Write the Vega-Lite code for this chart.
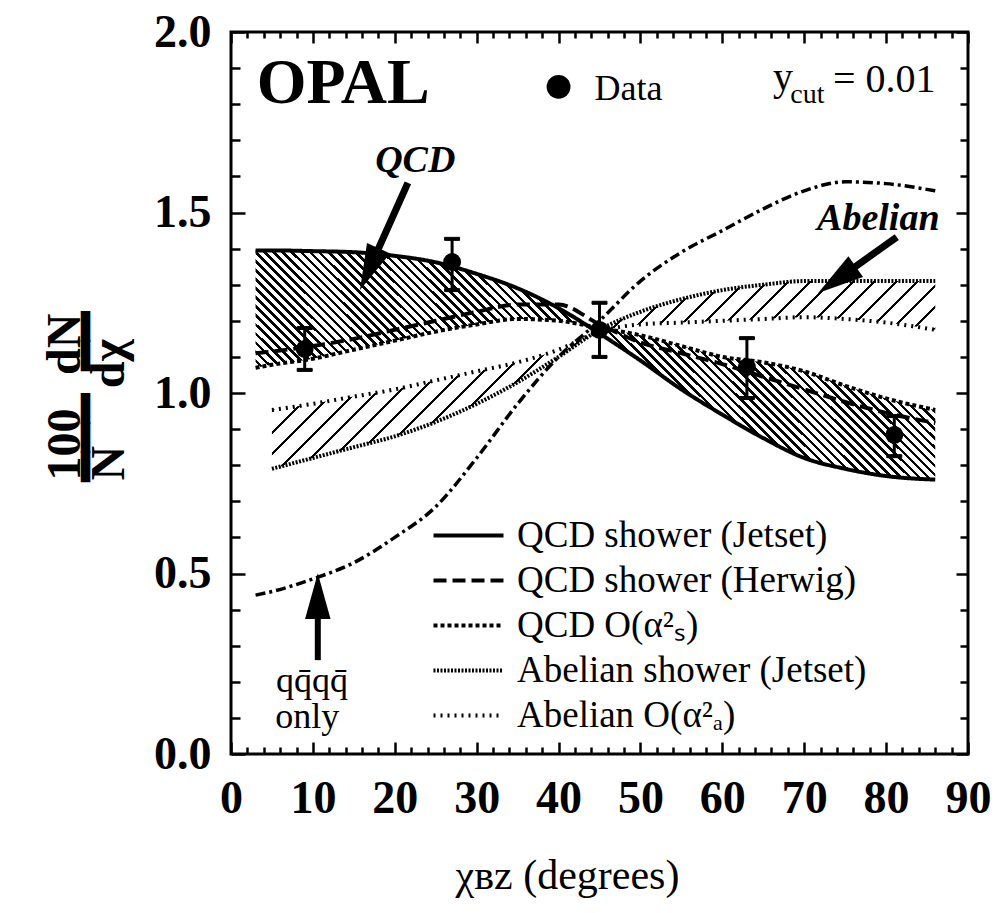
{
 "$schema": "https://vega.github.io/schema/vega-lite/v6.json",
 "width": 737, "height": 722,
 "autosize": {"type": "none"},
 "padding": {"left": 231, "top": 32, "right": 33, "bottom": 159},
 "background": "white",
 "config": {"view": {"stroke": "black", "strokeWidth": 3}, "font": "Liberation Serif"},
 "datasets": {
  "curves": [
   {"x": 3, "qcd_jetset": 1.395, "qcd_herwig": 1.11, "qcd_as2": 1.07, "ab_jetset": null, "ab_aa2": null, "qqqq": 0.44},
   {"x": 5, "qcd_jetset": 1.395, "qcd_herwig": 1.115, "qcd_as2": 1.078, "ab_jetset": 0.79, "ab_aa2": 0.953, "qqqq": 0.45},
   {"x": 10, "qcd_jetset": 1.393, "qcd_herwig": 1.13, "qcd_as2": 1.095, "ab_jetset": 0.82, "ab_aa2": 0.97, "qqqq": 0.485},
   {"x": 15, "qcd_jetset": 1.39, "qcd_herwig": 1.15, "qcd_as2": 1.12, "ab_jetset": 0.85, "ab_aa2": 0.99, "qqqq": 0.53},
   {"x": 20, "qcd_jetset": 1.38, "qcd_herwig": 1.175, "qcd_as2": 1.145, "ab_jetset": 0.88, "ab_aa2": 1.01, "qqqq": 0.6},
   {"x": 25, "qcd_jetset": 1.362, "qcd_herwig": 1.2, "qcd_as2": 1.17, "ab_jetset": 0.92, "ab_aa2": 1.035, "qqqq": 0.685},
   {"x": 30, "qcd_jetset": 1.33, "qcd_herwig": 1.225, "qcd_as2": 1.19, "ab_jetset": 0.97, "ab_aa2": 1.06, "qqqq": 0.82},
   {"x": 35, "qcd_jetset": 1.29, "qcd_herwig": 1.245, "qcd_as2": 1.205, "ab_jetset": 1.03, "ab_aa2": 1.085, "qqqq": 0.97},
   {"x": 40, "qcd_jetset": 1.235, "qcd_herwig": 1.245, "qcd_as2": 1.2, "ab_jetset": 1.1, "ab_aa2": 1.12, "qqqq": 1.1},
   {"x": 45, "qcd_jetset": 1.165, "qcd_herwig": 1.19, "qcd_as2": 1.18, "ab_jetset": 1.175, "ab_aa2": 1.17, "qqqq": 1.2},
   {"x": 50, "qcd_jetset": 1.09, "qcd_herwig": 1.14, "qcd_as2": 1.16, "ab_jetset": 1.225, "ab_aa2": 1.19, "qqqq": 1.31},
   {"x": 55, "qcd_jetset": 1.01, "qcd_herwig": 1.11, "qcd_as2": 1.13, "ab_jetset": 1.26, "ab_aa2": 1.195, "qqqq": 1.39},
   {"x": 60, "qcd_jetset": 0.94, "qcd_herwig": 1.08, "qcd_as2": 1.1, "ab_jetset": 1.285, "ab_aa2": 1.2, "qqqq": 1.45},
   {"x": 65, "qcd_jetset": 0.875, "qcd_herwig": 1.045, "qcd_as2": 1.085, "ab_jetset": 1.3, "ab_aa2": 1.205, "qqqq": 1.51},
   {"x": 70, "qcd_jetset": 0.82, "qcd_herwig": 1.01, "qcd_as2": 1.06, "ab_jetset": 1.31, "ab_aa2": 1.21, "qqqq": 1.56},
   {"x": 75, "qcd_jetset": 0.79, "qcd_herwig": 0.975, "qcd_as2": 1.02, "ab_jetset": 1.31, "ab_aa2": 1.205, "qqqq": 1.585},
   {"x": 80, "qcd_jetset": 0.77, "qcd_herwig": 0.945, "qcd_as2": 0.985, "ab_jetset": 1.31, "ab_aa2": 1.195, "qqqq": 1.58},
   {"x": 86, "qcd_jetset": 0.76, "qcd_herwig": 0.917, "qcd_as2": 0.953, "ab_jetset": 1.31, "ab_aa2": 1.175, "qqqq": 1.56}
  ],
  "points": [
   {"x": 9, "y": 1.122, "lo": 1.064, "hi": 1.18},
   {"x": 27, "y": 1.363, "lo": 1.285, "hi": 1.427},
   {"x": 45, "y": 1.175, "lo": 1.1, "hi": 1.25},
   {"x": 63, "y": 1.072, "lo": 0.986, "hi": 1.152},
   {"x": 81, "y": 0.884, "lo": 0.825, "hi": 0.936}
  ]
 },
 "resolve": {"axis": {"x": "independent", "y": "independent"}},
 "layer": [
  {
   "data": {"name": "curves"},
   "mark": {"type": "area", "interpolate": "monotone", "fill": {"gradient": "linear", "x1": 0, "y1": 1, "x2": 1.2, "y2": 0.592, "stops": [
{"offset":0,"color":"#000"},{"offset":0.004,"color":"#000"},{"offset":0.004,"color":"#fff"},{"offset":0.01,"color":"#fff"},
{"offset":0.01,"color":"#000"},{"offset":0.014,"color":"#000"},{"offset":0.014,"color":"#fff"},{"offset":0.02,"color":"#fff"},
{"offset":0.02,"color":"#000"},{"offset":0.024,"color":"#000"},{"offset":0.024,"color":"#fff"},{"offset":0.03,"color":"#fff"},
{"offset":0.03,"color":"#000"},{"offset":0.034,"color":"#000"},{"offset":0.034,"color":"#fff"},{"offset":0.04,"color":"#fff"},
{"offset":0.04,"color":"#000"},{"offset":0.044,"color":"#000"},{"offset":0.044,"color":"#fff"},{"offset":0.05,"color":"#fff"},
{"offset":0.05,"color":"#000"},{"offset":0.054,"color":"#000"},{"offset":0.054,"color":"#fff"},{"offset":0.06,"color":"#fff"},
{"offset":0.06,"color":"#000"},{"offset":0.064,"color":"#000"},{"offset":0.064,"color":"#fff"},{"offset":0.07,"color":"#fff"},
{"offset":0.07,"color":"#000"},{"offset":0.074,"color":"#000"},{"offset":0.074,"color":"#fff"},{"offset":0.08,"color":"#fff"},
{"offset":0.08,"color":"#000"},{"offset":0.084,"color":"#000"},{"offset":0.084,"color":"#fff"},{"offset":0.09,"color":"#fff"},
{"offset":0.09,"color":"#000"},{"offset":0.094,"color":"#000"},{"offset":0.094,"color":"#fff"},{"offset":0.1,"color":"#fff"},
{"offset":0.1,"color":"#000"},{"offset":0.104,"color":"#000"},{"offset":0.104,"color":"#fff"},{"offset":0.11,"color":"#fff"},
{"offset":0.11,"color":"#000"},{"offset":0.114,"color":"#000"},{"offset":0.114,"color":"#fff"},{"offset":0.12,"color":"#fff"},
{"offset":0.12,"color":"#000"},{"offset":0.124,"color":"#000"},{"offset":0.124,"color":"#fff"},{"offset":0.13,"color":"#fff"},
{"offset":0.13,"color":"#000"},{"offset":0.134,"color":"#000"},{"offset":0.134,"color":"#fff"},{"offset":0.14,"color":"#fff"},
{"offset":0.14,"color":"#000"},{"offset":0.144,"color":"#000"},{"offset":0.144,"color":"#fff"},{"offset":0.15,"color":"#fff"},
{"offset":0.15,"color":"#000"},{"offset":0.154,"color":"#000"},{"offset":0.154,"color":"#fff"},{"offset":0.16,"color":"#fff"},
{"offset":0.16,"color":"#000"},{"offset":0.164,"color":"#000"},{"offset":0.164,"color":"#fff"},{"offset":0.17,"color":"#fff"},
{"offset":0.17,"color":"#000"},{"offset":0.174,"color":"#000"},{"offset":0.174,"color":"#fff"},{"offset":0.18,"color":"#fff"},
{"offset":0.18,"color":"#000"},{"offset":0.184,"color":"#000"},{"offset":0.184,"color":"#fff"},{"offset":0.19,"color":"#fff"},
{"offset":0.19,"color":"#000"},{"offset":0.194,"color":"#000"},{"offset":0.194,"color":"#fff"},{"offset":0.2,"color":"#fff"},
{"offset":0.2,"color":"#000"},{"offset":0.204,"color":"#000"},{"offset":0.204,"color":"#fff"},{"offset":0.21,"color":"#fff"},
{"offset":0.21,"color":"#000"},{"offset":0.214,"color":"#000"},{"offset":0.214,"color":"#fff"},{"offset":0.22,"color":"#fff"},
{"offset":0.22,"color":"#000"},{"offset":0.224,"color":"#000"},{"offset":0.224,"color":"#fff"},{"offset":0.23,"color":"#fff"},
{"offset":0.23,"color":"#000"},{"offset":0.234,"color":"#000"},{"offset":0.234,"color":"#fff"},{"offset":0.24,"color":"#fff"},
{"offset":0.24,"color":"#000"},{"offset":0.244,"color":"#000"},{"offset":0.244,"color":"#fff"},{"offset":0.25,"color":"#fff"},
{"offset":0.25,"color":"#000"},{"offset":0.254,"color":"#000"},{"offset":0.254,"color":"#fff"},{"offset":0.26,"color":"#fff"},
{"offset":0.26,"color":"#000"},{"offset":0.264,"color":"#000"},{"offset":0.264,"color":"#fff"},{"offset":0.27,"color":"#fff"},
{"offset":0.27,"color":"#000"},{"offset":0.274,"color":"#000"},{"offset":0.274,"color":"#fff"},{"offset":0.28,"color":"#fff"},
{"offset":0.28,"color":"#000"},{"offset":0.284,"color":"#000"},{"offset":0.284,"color":"#fff"},{"offset":0.29,"color":"#fff"},
{"offset":0.29,"color":"#000"},{"offset":0.294,"color":"#000"},{"offset":0.294,"color":"#fff"},{"offset":0.3,"color":"#fff"},
{"offset":0.3,"color":"#000"},{"offset":0.304,"color":"#000"},{"offset":0.304,"color":"#fff"},{"offset":0.31,"color":"#fff"},
{"offset":0.31,"color":"#000"},{"offset":0.314,"color":"#000"},{"offset":0.314,"color":"#fff"},{"offset":0.32,"color":"#fff"},
{"offset":0.32,"color":"#000"},{"offset":0.324,"color":"#000"},{"offset":0.324,"color":"#fff"},{"offset":0.33,"color":"#fff"},
{"offset":0.33,"color":"#000"},{"offset":0.334,"color":"#000"},{"offset":0.334,"color":"#fff"},{"offset":0.34,"color":"#fff"},
{"offset":0.34,"color":"#000"},{"offset":0.344,"color":"#000"},{"offset":0.344,"color":"#fff"},{"offset":0.35,"color":"#fff"},
{"offset":0.35,"color":"#000"},{"offset":0.354,"color":"#000"},{"offset":0.354,"color":"#fff"},{"offset":0.36,"color":"#fff"},
{"offset":0.36,"color":"#000"},{"offset":0.364,"color":"#000"},{"offset":0.364,"color":"#fff"},{"offset":0.37,"color":"#fff"},
{"offset":0.37,"color":"#000"},{"offset":0.374,"color":"#000"},{"offset":0.374,"color":"#fff"},{"offset":0.38,"color":"#fff"},
{"offset":0.38,"color":"#000"},{"offset":0.384,"color":"#000"},{"offset":0.384,"color":"#fff"},{"offset":0.39,"color":"#fff"},
{"offset":0.39,"color":"#000"},{"offset":0.394,"color":"#000"},{"offset":0.394,"color":"#fff"},{"offset":0.4,"color":"#fff"},
{"offset":0.4,"color":"#000"},{"offset":0.404,"color":"#000"},{"offset":0.404,"color":"#fff"},{"offset":0.41,"color":"#fff"},
{"offset":0.41,"color":"#000"},{"offset":0.414,"color":"#000"},{"offset":0.414,"color":"#fff"},{"offset":0.42,"color":"#fff"},
{"offset":0.42,"color":"#000"},{"offset":0.424,"color":"#000"},{"offset":0.424,"color":"#fff"},{"offset":0.43,"color":"#fff"},
{"offset":0.43,"color":"#000"},{"offset":0.434,"color":"#000"},{"offset":0.434,"color":"#fff"},{"offset":0.44,"color":"#fff"},
{"offset":0.44,"color":"#000"},{"offset":0.444,"color":"#000"},{"offset":0.444,"color":"#fff"},{"offset":0.45,"color":"#fff"},
{"offset":0.45,"color":"#000"},{"offset":0.454,"color":"#000"},{"offset":0.454,"color":"#fff"},{"offset":0.46,"color":"#fff"},
{"offset":0.46,"color":"#000"},{"offset":0.464,"color":"#000"},{"offset":0.464,"color":"#fff"},{"offset":0.47,"color":"#fff"},
{"offset":0.47,"color":"#000"},{"offset":0.474,"color":"#000"},{"offset":0.474,"color":"#fff"},{"offset":0.48,"color":"#fff"},
{"offset":0.48,"color":"#000"},{"offset":0.484,"color":"#000"},{"offset":0.484,"color":"#fff"},{"offset":0.49,"color":"#fff"},
{"offset":0.49,"color":"#000"},{"offset":0.494,"color":"#000"},{"offset":0.494,"color":"#fff"},{"offset":0.5,"color":"#fff"},
{"offset":0.5,"color":"#000"},{"offset":0.504,"color":"#000"},{"offset":0.504,"color":"#fff"},{"offset":0.51,"color":"#fff"},
{"offset":0.51,"color":"#000"},{"offset":0.514,"color":"#000"},{"offset":0.514,"color":"#fff"},{"offset":0.52,"color":"#fff"},
{"offset":0.52,"color":"#000"},{"offset":0.524,"color":"#000"},{"offset":0.524,"color":"#fff"},{"offset":0.53,"color":"#fff"},
{"offset":0.53,"color":"#000"},{"offset":0.534,"color":"#000"},{"offset":0.534,"color":"#fff"},{"offset":0.54,"color":"#fff"},
{"offset":0.54,"color":"#000"},{"offset":0.544,"color":"#000"},{"offset":0.544,"color":"#fff"},{"offset":0.55,"color":"#fff"},
{"offset":0.55,"color":"#000"},{"offset":0.554,"color":"#000"},{"offset":0.554,"color":"#fff"},{"offset":0.56,"color":"#fff"},
{"offset":0.56,"color":"#000"},{"offset":0.564,"color":"#000"},{"offset":0.564,"color":"#fff"},{"offset":0.57,"color":"#fff"},
{"offset":0.57,"color":"#000"},{"offset":0.574,"color":"#000"},{"offset":0.574,"color":"#fff"},{"offset":0.58,"color":"#fff"},
{"offset":0.58,"color":"#000"},{"offset":0.584,"color":"#000"},{"offset":0.584,"color":"#fff"},{"offset":0.59,"color":"#fff"},
{"offset":0.59,"color":"#000"},{"offset":0.594,"color":"#000"},{"offset":0.594,"color":"#fff"},{"offset":0.6,"color":"#fff"},
{"offset":0.6,"color":"#000"},{"offset":0.604,"color":"#000"},{"offset":0.604,"color":"#fff"},{"offset":0.61,"color":"#fff"},
{"offset":0.61,"color":"#000"},{"offset":0.614,"color":"#000"},{"offset":0.614,"color":"#fff"},{"offset":0.62,"color":"#fff"},
{"offset":0.62,"color":"#000"},{"offset":0.624,"color":"#000"},{"offset":0.624,"color":"#fff"},{"offset":0.63,"color":"#fff"},
{"offset":0.63,"color":"#000"},{"offset":0.634,"color":"#000"},{"offset":0.634,"color":"#fff"},{"offset":0.64,"color":"#fff"},
{"offset":0.64,"color":"#000"},{"offset":0.644,"color":"#000"},{"offset":0.644,"color":"#fff"},{"offset":0.65,"color":"#fff"},
{"offset":0.65,"color":"#000"},{"offset":0.654,"color":"#000"},{"offset":0.654,"color":"#fff"},{"offset":0.66,"color":"#fff"},
{"offset":0.66,"color":"#000"},{"offset":0.664,"color":"#000"},{"offset":0.664,"color":"#fff"},{"offset":0.67,"color":"#fff"},
{"offset":0.67,"color":"#000"},{"offset":0.674,"color":"#000"},{"offset":0.674,"color":"#fff"},{"offset":0.68,"color":"#fff"},
{"offset":0.68,"color":"#000"},{"offset":0.684,"color":"#000"},{"offset":0.684,"color":"#fff"},{"offset":0.69,"color":"#fff"},
{"offset":0.69,"color":"#000"},{"offset":0.694,"color":"#000"},{"offset":0.694,"color":"#fff"},{"offset":0.7,"color":"#fff"},
{"offset":0.7,"color":"#000"},{"offset":0.704,"color":"#000"},{"offset":0.704,"color":"#fff"},{"offset":0.71,"color":"#fff"},
{"offset":0.71,"color":"#000"},{"offset":0.714,"color":"#000"},{"offset":0.714,"color":"#fff"},{"offset":0.72,"color":"#fff"},
{"offset":0.72,"color":"#000"},{"offset":0.724,"color":"#000"},{"offset":0.724,"color":"#fff"},{"offset":0.73,"color":"#fff"},
{"offset":0.73,"color":"#000"},{"offset":0.734,"color":"#000"},{"offset":0.734,"color":"#fff"},{"offset":0.74,"color":"#fff"},
{"offset":0.74,"color":"#000"},{"offset":0.744,"color":"#000"},{"offset":0.744,"color":"#fff"},{"offset":0.75,"color":"#fff"},
{"offset":0.75,"color":"#000"},{"offset":0.754,"color":"#000"},{"offset":0.754,"color":"#fff"},{"offset":0.76,"color":"#fff"},
{"offset":0.76,"color":"#000"},{"offset":0.764,"color":"#000"},{"offset":0.764,"color":"#fff"},{"offset":0.77,"color":"#fff"},
{"offset":0.77,"color":"#000"},{"offset":0.774,"color":"#000"},{"offset":0.774,"color":"#fff"},{"offset":0.78,"color":"#fff"},
{"offset":0.78,"color":"#000"},{"offset":0.784,"color":"#000"},{"offset":0.784,"color":"#fff"},{"offset":0.79,"color":"#fff"},
{"offset":0.79,"color":"#000"},{"offset":0.794,"color":"#000"},{"offset":0.794,"color":"#fff"},{"offset":0.8,"color":"#fff"},
{"offset":0.8,"color":"#000"},{"offset":0.804,"color":"#000"},{"offset":0.804,"color":"#fff"},{"offset":0.81,"color":"#fff"},
{"offset":0.81,"color":"#000"},{"offset":0.814,"color":"#000"},{"offset":0.814,"color":"#fff"},{"offset":0.82,"color":"#fff"},
{"offset":0.82,"color":"#000"},{"offset":0.824,"color":"#000"},{"offset":0.824,"color":"#fff"},{"offset":0.83,"color":"#fff"},
{"offset":0.83,"color":"#000"},{"offset":0.834,"color":"#000"},{"offset":0.834,"color":"#fff"},{"offset":0.84,"color":"#fff"},
{"offset":0.84,"color":"#000"},{"offset":0.844,"color":"#000"},{"offset":0.844,"color":"#fff"},{"offset":0.85,"color":"#fff"},
{"offset":0.85,"color":"#000"},{"offset":0.854,"color":"#000"},{"offset":0.854,"color":"#fff"},{"offset":0.86,"color":"#fff"},
{"offset":0.86,"color":"#000"},{"offset":0.864,"color":"#000"},{"offset":0.864,"color":"#fff"},{"offset":0.87,"color":"#fff"},
{"offset":0.87,"color":"#000"},{"offset":0.874,"color":"#000"},{"offset":0.874,"color":"#fff"},{"offset":0.88,"color":"#fff"},
{"offset":0.88,"color":"#000"},{"offset":0.884,"color":"#000"},{"offset":0.884,"color":"#fff"},{"offset":0.89,"color":"#fff"},
{"offset":0.89,"color":"#000"},{"offset":0.894,"color":"#000"},{"offset":0.894,"color":"#fff"},{"offset":0.9,"color":"#fff"},
{"offset":0.9,"color":"#000"},{"offset":0.904,"color":"#000"},{"offset":0.904,"color":"#fff"},{"offset":0.91,"color":"#fff"},
{"offset":0.91,"color":"#000"},{"offset":0.914,"color":"#000"},{"offset":0.914,"color":"#fff"},{"offset":0.92,"color":"#fff"},
{"offset":0.92,"color":"#000"},{"offset":0.924,"color":"#000"},{"offset":0.924,"color":"#fff"},{"offset":0.93,"color":"#fff"},
{"offset":0.93,"color":"#000"},{"offset":0.934,"color":"#000"},{"offset":0.934,"color":"#fff"},{"offset":0.94,"color":"#fff"},
{"offset":0.94,"color":"#000"},{"offset":0.944,"color":"#000"},{"offset":0.944,"color":"#fff"},{"offset":0.95,"color":"#fff"},
{"offset":0.95,"color":"#000"},{"offset":0.954,"color":"#000"},{"offset":0.954,"color":"#fff"},{"offset":0.96,"color":"#fff"},
{"offset":0.96,"color":"#000"},{"offset":0.964,"color":"#000"},{"offset":0.964,"color":"#fff"},{"offset":0.97,"color":"#fff"},
{"offset":0.97,"color":"#000"},{"offset":0.974,"color":"#000"},{"offset":0.974,"color":"#fff"},{"offset":0.98,"color":"#fff"},
{"offset":0.98,"color":"#000"},{"offset":0.984,"color":"#000"},{"offset":0.984,"color":"#fff"},{"offset":0.99,"color":"#fff"},
{"offset":0.99,"color":"#000"},{"offset":0.994,"color":"#000"},{"offset":0.994,"color":"#fff"},{"offset":1,"color":"#fff"}
   ]}},
   "encoding": {
    "x": {"field": "x", "type": "quantitative", "scale": {"domain": [0, 90], "nice": false, "zero": false},
     "axis": {"orient": "bottom", "values": [0,2,4,6,8,10,12,14,16,18,20,22,24,26,28,30,32,34,36,38,40,42,44,46,48,50,52,54,56,58,60,62,64,66,68,70,72,74,76,78,80,82,84,86,88,90],
      "domain": false, "grid": false, "tickColor": "black", "tickWidth": 2.5,
      "tickSize": {"condition": {"test": "datum.value % 10 === 0", "value": -12}, "value": -7},
      "labelExpr": "datum.value % 10 === 0 ? datum.label : ''",
      "labelFont": "Liberation Serif", "labelFontWeight": "bold", "labelFontSize": 46, "labelColor": "black",
      "labelPadding": 34, "labelOverlap": false, "labelFlush": false,
      "title": "χʙᴢ (degrees)", "titleFont": "Liberation Serif", "titleFontSize": 42, "titleFontWeight": "normal", "titleColor": "black",
      "titleX": 336, "titleY": 134, "titleAlign": "center", "titleBaseline": "alphabetic"}},
    "y": {"field": "qcd_jetset", "type": "quantitative", "scale": {"domain": [0, 2], "nice": false, "zero": false},
     "axis": {"orient": "left", "values": [0,0.1,0.2,0.3,0.4,0.5,0.6,0.7,0.8,0.9,1,1.1,1.2,1.3,1.4,1.5,1.6,1.7,1.8,1.9,2],
      "domain": false, "grid": false, "tickColor": "black", "tickWidth": 2.5,
      "tickSize": {"condition": {"test": "abs(datum.value*2-round(datum.value*2))<0.01", "value": -14}, "value": -9},
      "labelExpr": "abs(datum.value*2-round(datum.value*2))<0.01 ? format(datum.value,'.1f') : ''",
      "labelFont": "Liberation Serif", "labelFontWeight": "bold", "labelFontSize": 46, "labelColor": "black",
      "labelPadding": 34, "labelOverlap": false, "labelFlush": false,
      "title": ["100\u2002\u2009dN", "━━━\u2002━━", "\u2007N\u2003\u2009dχ"],
      "titleFont": "Liberation Serif", "titleFontSize": 48, "titleFontWeight": "bold", "titleColor": "black",
      "titleAngle": 270, "titleAlign": "left", "titleBaseline": "middle", "titleX": -166, "titleY": 448, "titleLineHeight": 22}},
    "y2": {"field": "qcd_as2"}
   }
  },
  {
   "data": {"name": "curves"},
   "mark": {"type": "area", "interpolate": "monotone", "fill": {"gradient": "linear", "x1": 0, "y1": 0, "x2": 1.2, "y2": 0.34, "stops": [
{"offset":0,"color":"#000"},{"offset":0.0035,"color":"#000"},{"offset":0.0035,"color":"#fff"},{"offset":0.025,"color":"#fff"},
{"offset":0.025,"color":"#000"},{"offset":0.0285,"color":"#000"},{"offset":0.0285,"color":"#fff"},{"offset":0.05,"color":"#fff"},
{"offset":0.05,"color":"#000"},{"offset":0.0535,"color":"#000"},{"offset":0.0535,"color":"#fff"},{"offset":0.075,"color":"#fff"},
{"offset":0.075,"color":"#000"},{"offset":0.0785,"color":"#000"},{"offset":0.0785,"color":"#fff"},{"offset":0.1,"color":"#fff"},
{"offset":0.1,"color":"#000"},{"offset":0.1035,"color":"#000"},{"offset":0.1035,"color":"#fff"},{"offset":0.125,"color":"#fff"},
{"offset":0.125,"color":"#000"},{"offset":0.1285,"color":"#000"},{"offset":0.1285,"color":"#fff"},{"offset":0.15,"color":"#fff"},
{"offset":0.15,"color":"#000"},{"offset":0.1535,"color":"#000"},{"offset":0.1535,"color":"#fff"},{"offset":0.175,"color":"#fff"},
{"offset":0.175,"color":"#000"},{"offset":0.1785,"color":"#000"},{"offset":0.1785,"color":"#fff"},{"offset":0.2,"color":"#fff"},
{"offset":0.2,"color":"#000"},{"offset":0.2035,"color":"#000"},{"offset":0.2035,"color":"#fff"},{"offset":0.225,"color":"#fff"},
{"offset":0.225,"color":"#000"},{"offset":0.2285,"color":"#000"},{"offset":0.2285,"color":"#fff"},{"offset":0.25,"color":"#fff"},
{"offset":0.25,"color":"#000"},{"offset":0.2535,"color":"#000"},{"offset":0.2535,"color":"#fff"},{"offset":0.275,"color":"#fff"},
{"offset":0.275,"color":"#000"},{"offset":0.2785,"color":"#000"},{"offset":0.2785,"color":"#fff"},{"offset":0.3,"color":"#fff"},
{"offset":0.3,"color":"#000"},{"offset":0.3035,"color":"#000"},{"offset":0.3035,"color":"#fff"},{"offset":0.325,"color":"#fff"},
{"offset":0.325,"color":"#000"},{"offset":0.3285,"color":"#000"},{"offset":0.3285,"color":"#fff"},{"offset":0.35,"color":"#fff"},
{"offset":0.35,"color":"#000"},{"offset":0.3535,"color":"#000"},{"offset":0.3535,"color":"#fff"},{"offset":0.375,"color":"#fff"},
{"offset":0.375,"color":"#000"},{"offset":0.3785,"color":"#000"},{"offset":0.3785,"color":"#fff"},{"offset":0.4,"color":"#fff"},
{"offset":0.4,"color":"#000"},{"offset":0.4035,"color":"#000"},{"offset":0.4035,"color":"#fff"},{"offset":0.425,"color":"#fff"},
{"offset":0.425,"color":"#000"},{"offset":0.4285,"color":"#000"},{"offset":0.4285,"color":"#fff"},{"offset":0.45,"color":"#fff"},
{"offset":0.45,"color":"#000"},{"offset":0.4535,"color":"#000"},{"offset":0.4535,"color":"#fff"},{"offset":0.475,"color":"#fff"},
{"offset":0.475,"color":"#000"},{"offset":0.4785,"color":"#000"},{"offset":0.4785,"color":"#fff"},{"offset":0.5,"color":"#fff"},
{"offset":0.5,"color":"#000"},{"offset":0.5035,"color":"#000"},{"offset":0.5035,"color":"#fff"},{"offset":0.525,"color":"#fff"},
{"offset":0.525,"color":"#000"},{"offset":0.5285,"color":"#000"},{"offset":0.5285,"color":"#fff"},{"offset":0.55,"color":"#fff"},
{"offset":0.55,"color":"#000"},{"offset":0.5535,"color":"#000"},{"offset":0.5535,"color":"#fff"},{"offset":0.575,"color":"#fff"},
{"offset":0.575,"color":"#000"},{"offset":0.5785,"color":"#000"},{"offset":0.5785,"color":"#fff"},{"offset":0.6,"color":"#fff"},
{"offset":0.6,"color":"#000"},{"offset":0.6035,"color":"#000"},{"offset":0.6035,"color":"#fff"},{"offset":0.625,"color":"#fff"},
{"offset":0.625,"color":"#000"},{"offset":0.6285,"color":"#000"},{"offset":0.6285,"color":"#fff"},{"offset":0.65,"color":"#fff"},
{"offset":0.65,"color":"#000"},{"offset":0.6535,"color":"#000"},{"offset":0.6535,"color":"#fff"},{"offset":0.675,"color":"#fff"},
{"offset":0.675,"color":"#000"},{"offset":0.6785,"color":"#000"},{"offset":0.6785,"color":"#fff"},{"offset":0.7,"color":"#fff"},
{"offset":0.7,"color":"#000"},{"offset":0.7035,"color":"#000"},{"offset":0.7035,"color":"#fff"},{"offset":0.725,"color":"#fff"},
{"offset":0.725,"color":"#000"},{"offset":0.7285,"color":"#000"},{"offset":0.7285,"color":"#fff"},{"offset":0.75,"color":"#fff"},
{"offset":0.75,"color":"#000"},{"offset":0.7535,"color":"#000"},{"offset":0.7535,"color":"#fff"},{"offset":0.775,"color":"#fff"},
{"offset":0.775,"color":"#000"},{"offset":0.7785,"color":"#000"},{"offset":0.7785,"color":"#fff"},{"offset":0.8,"color":"#fff"},
{"offset":0.8,"color":"#000"},{"offset":0.8035,"color":"#000"},{"offset":0.8035,"color":"#fff"},{"offset":0.825,"color":"#fff"},
{"offset":0.825,"color":"#000"},{"offset":0.8285,"color":"#000"},{"offset":0.8285,"color":"#fff"},{"offset":0.85,"color":"#fff"},
{"offset":0.85,"color":"#000"},{"offset":0.8535,"color":"#000"},{"offset":0.8535,"color":"#fff"},{"offset":0.875,"color":"#fff"},
{"offset":0.875,"color":"#000"},{"offset":0.8785,"color":"#000"},{"offset":0.8785,"color":"#fff"},{"offset":0.9,"color":"#fff"},
{"offset":0.9,"color":"#000"},{"offset":0.9035,"color":"#000"},{"offset":0.9035,"color":"#fff"},{"offset":0.925,"color":"#fff"},
{"offset":0.925,"color":"#000"},{"offset":0.9285,"color":"#000"},{"offset":0.9285,"color":"#fff"},{"offset":0.95,"color":"#fff"},
{"offset":0.95,"color":"#000"},{"offset":0.9535,"color":"#000"},{"offset":0.9535,"color":"#fff"},{"offset":0.975,"color":"#fff"},
{"offset":0.975,"color":"#000"},{"offset":0.9785,"color":"#000"},{"offset":0.9785,"color":"#fff"},{"offset":1,"color":"#fff"}
   ]}},
   "encoding": {
    "x": {"field": "x", "type": "quantitative",
     "axis": {"orient": "top", "values": [0,2,4,6,8,10,12,14,16,18,20,22,24,26,28,30,32,34,36,38,40,42,44,46,48,50,52,54,56,58,60,62,64,66,68,70,72,74,76,78,80,82,84,86,88,90],
      "domain": false, "grid": false, "labels": false, "title": null, "tickColor": "black", "tickWidth": 2.5,
      "tickSize": {"condition": {"test": "datum.value % 10 === 0", "value": -11}, "value": -6}}},
    "y": {"field": "ab_jetset", "type": "quantitative",
     "axis": {"orient": "right", "values": [0,0.1,0.2,0.3,0.4,0.5,0.6,0.7,0.8,0.9,1,1.1,1.2,1.3,1.4,1.5,1.6,1.7,1.8,1.9,2],
      "domain": false, "grid": false, "labels": false, "title": null, "tickColor": "black", "tickWidth": 2.5,
      "tickSize": {"condition": {"test": "abs(datum.value*2-round(datum.value*2))<0.01", "value": -12}, "value": -8}}},
    "y2": {"field": "ab_aa2"}
   }
  },
  {
   "data": {"name": "curves"},
   "transform": [{"fold": ["qcd_jetset", "qcd_herwig", "qcd_as2", "ab_jetset", "ab_aa2"], "as": ["curve", "val"]}],
   "mark": {"type": "line", "interpolate": "monotone", "color": "black", "strokeWidth": 4},
   "encoding": {
    "x": {"field": "x", "type": "quantitative", "axis": null},
    "y": {"field": "val", "type": "quantitative", "axis": null},
    "strokeDash": {"field": "curve", "type": "nominal",
     "scale": {"domain": ["qcd_jetset", "qcd_herwig", "qcd_as2", "ab_jetset", "ab_aa2"], "range": [[1, 0], [13, 6], [4, 3], [2, 1.5], [2, 5]]},
     "legend": {"orient": "none", "legendX": 219, "legendY": 485, "title": null, "direction": "vertical",
      "labelFont": "Liberation Serif", "labelFontSize": 37, "labelColor": "black", "labelLimit": 0,
      "symbolType": "M-2.5,0L2.5,0", "symbolSize": 784, "symbolStrokeWidth": 4, "symbolStrokeColor": "black",
      "labelOffset": 30, "rowPadding": 7, "padding": 0,
      "labelExpr": "datum.label==='qcd_jetset'?'QCD shower (Jetset)':datum.label==='qcd_herwig'?'QCD shower (Herwig)':datum.label==='qcd_as2'?'QCD  O(α²ₛ)':datum.label==='ab_jetset'?'Abelian shower (Jetset)':'Abelian  O(α²ₐ)'"}}
   }
  },
  {
   "data": {"name": "curves"},
   "mark": {"type": "line", "interpolate": "monotone", "color": "black", "strokeWidth": 3.5, "strokeDash": [10, 4, 3, 4]},
   "encoding": {
    "x": {"field": "x", "type": "quantitative", "axis": null},
    "y": {"field": "qqqq", "type": "quantitative", "axis": null}
   }
  },
  {
   "data": {"name": "points"},
   "mark": {"type": "errorbar", "color": "black", "thickness": 3, "rule": {"stroke": "black", "strokeWidth": 3, "opacity": 1}, "ticks": {"size": 15, "thickness": 3, "stroke": "black", "color": "black", "opacity": 1}},
   "encoding": {
    "x": {"field": "x", "type": "quantitative", "axis": null},
    "y": {"field": "lo", "type": "quantitative", "axis": null},
    "y2": {"field": "hi"}
   }
  },
  {
   "data": {"name": "points"},
   "mark": {"type": "point", "filled": true, "color": "black", "opacity": 1, "size": 320},
   "encoding": {
    "x": {"field": "x", "type": "quantitative", "axis": null},
    "y": {"field": "y", "type": "quantitative", "axis": null}
   }
  },
  {
   "data": {"values": [{}]},
   "mark": {"type": "point", "filled": true, "color": "black", "opacity": 1, "size": 570},
   "encoding": {"x": {"datum": 40.0, "axis": null}, "y": {"datum": 1.848, "axis": null}}
  },
  {
   "data": {"values": [{}]},
   "mark": {"type": "text", "text": "OPAL", "font": "Liberation Serif", "fontSize": 64, "fontWeight": "bold", "align": "left", "baseline": "alphabetic", "color": "black"},
   "encoding": {"x": {"datum": 3.14, "axis": null}, "y": {"datum": 1.803, "axis": null}}
  },
  {
   "data": {"values": [{}]},
   "mark": {"type": "text", "text": "Data", "font": "Liberation Serif", "fontSize": 36, "align": "left", "baseline": "alphabetic", "color": "black"},
   "encoding": {"x": {"datum": 44.4, "axis": null}, "y": {"datum": 1.812, "axis": null}}
  },
  {
   "data": {"values": [{}]},
   "mark": {"type": "text", "text": "y", "font": "Liberation Serif", "fontSize": 40, "align": "left", "baseline": "alphabetic", "color": "black"},
   "encoding": {"x": {"datum": 66.2, "axis": null}, "y": {"datum": 1.839, "axis": null}}
  },
  {
   "data": {"values": [{}]},
   "mark": {"type": "text", "text": "cut", "font": "Liberation Serif", "fontSize": 28, "align": "left", "baseline": "alphabetic", "color": "black"},
   "encoding": {"x": {"datum": 68.3, "axis": null}, "y": {"datum": 1.803, "axis": null}}
  },
  {
   "data": {"values": [{}]},
   "mark": {"type": "text", "text": "= 0.01", "font": "Liberation Serif", "fontSize": 40, "align": "left", "baseline": "alphabetic", "color": "black"},
   "encoding": {"x": {"datum": 73.5, "axis": null}, "y": {"datum": 1.834, "axis": null}}
  },
  {
   "data": {"values": [{}]},
   "mark": {"type": "text", "text": "QCD", "font": "Liberation Serif", "fontSize": 38, "fontWeight": "bold", "fontStyle": "italic", "align": "center", "baseline": "alphabetic", "color": "black"},
   "encoding": {"x": {"datum": 22.5, "axis": null}, "y": {"datum": 1.612, "axis": null}}
  },
  {
   "data": {"values": [{}]},
   "mark": {"type": "text", "text": "Abelian", "font": "Liberation Serif", "fontSize": 38, "fontWeight": "bold", "fontStyle": "italic", "align": "center", "baseline": "alphabetic", "color": "black"},
   "encoding": {"x": {"datum": 79.05, "axis": null}, "y": {"datum": 1.452, "axis": null}}
  },
  {
   "data": {"values": [{}]},
   "mark": {"type": "text", "text": "qq̄qq̄", "font": "Liberation Serif", "fontSize": 36, "align": "center", "baseline": "alphabetic", "color": "black"},
   "encoding": {"x": {"datum": 9.9, "axis": null}, "y": {"datum": 0.172, "axis": null}}
  },
  {
   "data": {"values": [{}]},
   "mark": {"type": "text", "text": "only", "font": "Liberation Serif", "fontSize": 36, "align": "center", "baseline": "alphabetic", "color": "black"},
   "encoding": {"x": {"datum": 9.3, "axis": null}, "y": {"datum": 0.072, "axis": null}}
  },
  {
   "data": {"values": [{}]},
   "mark": {"type": "rule", "color": "black", "strokeWidth": 7},
   "encoding": {"x": {"datum": 21.6, "axis": null}, "y": {"datum": 1.582, "axis": null}, "x2": {"datum": 17.0}, "y2": {"datum": 1.349}}
  },
  {
   "data": {"values": [{}]},
   "mark": {"type": "point", "shape": "M0,0L0.5,1.8L-0.5,1.8Z", "filled": true, "color": "black", "opacity": 1, "size": 2600, "angle": 204},
   "encoding": {"x": {"datum": 15.75, "axis": null}, "y": {"datum": 1.285, "axis": null}}
  },
  {
   "data": {"values": [{}]},
   "mark": {"type": "rule", "color": "black", "strokeWidth": 7},
   "encoding": {"x": {"datum": 81.3, "axis": null}, "y": {"datum": 1.432, "axis": null}, "x2": {"datum": 74.2}, "y2": {"datum": 1.317}}
  },
  {
   "data": {"values": [{}]},
   "mark": {"type": "point", "shape": "M0,0L0.5,1.8L-0.5,1.8Z", "filled": true, "color": "black", "opacity": 1, "size": 2600, "angle": 235},
   "encoding": {"x": {"datum": 71.7, "axis": null}, "y": {"datum": 1.277, "axis": null}}
  },
  {
   "data": {"values": [{}]},
   "mark": {"type": "rule", "color": "black", "strokeWidth": 6},
   "encoding": {"x": {"datum": 10.6, "axis": null}, "y": {"datum": 0.26, "axis": null}, "x2": {"datum": 10.6}, "y2": {"datum": 0.432}}
  },
  {
   "data": {"values": [{}]},
   "mark": {"type": "point", "shape": "M0,0L0.5,1.8L-0.5,1.8Z", "filled": true, "color": "black", "opacity": 1, "size": 2600, "angle": 0},
   "encoding": {"x": {"datum": 10.6, "axis": null}, "y": {"datum": 0.501, "axis": null}}
  }
 ]
}
